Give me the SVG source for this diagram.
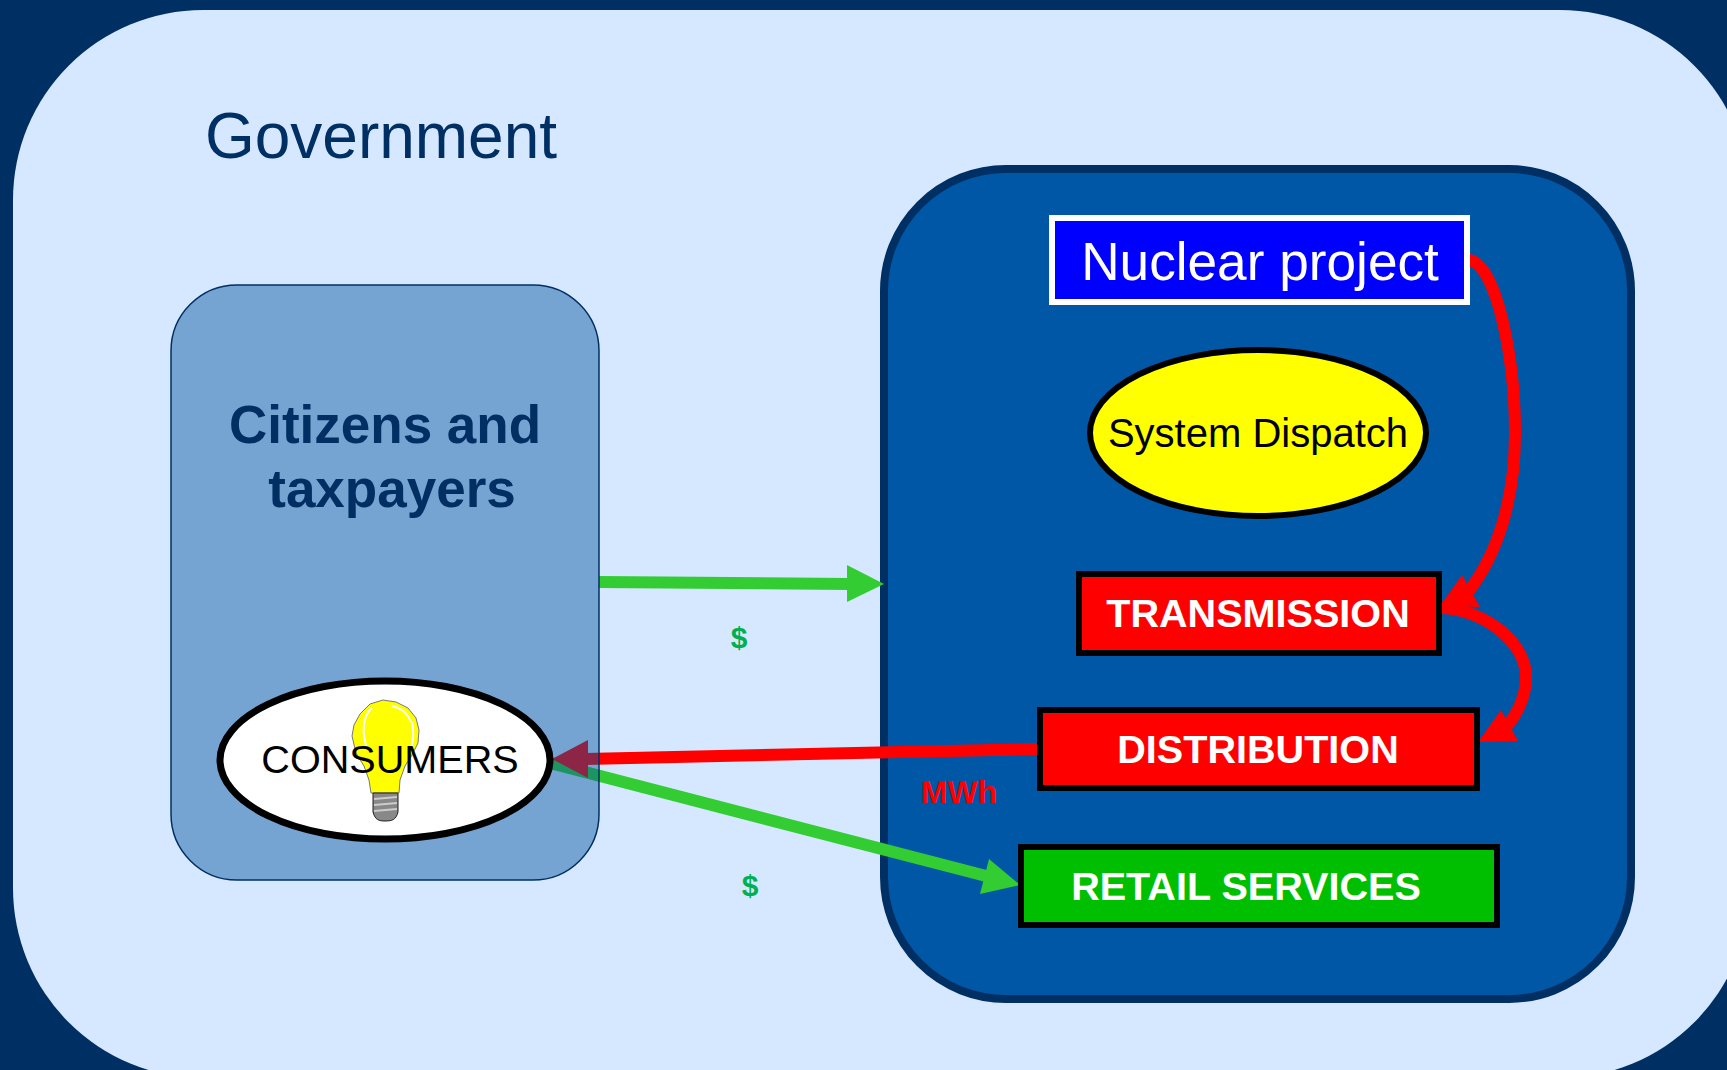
<svg xmlns="http://www.w3.org/2000/svg" width="1727" height="1070" viewBox="0 0 1727 1070">
<style>
text{font-family:"Liberation Sans",Arial,sans-serif;text-anchor:middle}
.b{font-weight:bold}
.lbl{font-size:39.6px;font-weight:bold;fill:#fff}
.box{stroke:#000;stroke-width:6}
.money{font-size:30px;font-weight:bold;fill:#00B050}
.red{fill:none;stroke:#f00;stroke-width:12}
.grn{fill:none;stroke:#33CC33;stroke-width:12}
</style>
<rect width="1727" height="1070" fill="#002F63"/>
<g id="government"><rect x="13" y="10" width="1737" height="1068" rx="190" ry="190" fill="#D6E8FF"/>
<text x="381" y="158" font-size="64" fill="#002F63">Government</text></g>
<g id="utility"><rect x="884" y="169" width="747" height="830" rx="122" ry="122" fill="#0057A6" stroke="#002F63" stroke-width="8"/></g>
<g id="connectors">
<path class="grn" d="M599,582L850,584"/><polygon points="847,565 884,584 847,602" fill="#33CC33"/>
<path class="grn" d="M550,763L990,877"/><polygon points="989,859 1020,885 980,894" fill="#33CC33"/>
<path class="red" d="M1039,749L585,759"/><polygon points="552,759 588,740 588,778" fill="#f00"/>
<path class="red" d="M1469,260C1497,264 1515,360 1515,433C1515,500 1497,555 1468,592"/><polygon points="1440,606 1462,575 1480,607" fill="#f00"/>
<path class="red" d="M1440,608C1480,608 1526,640 1526,677C1526,697 1518,712 1508,725"/><polygon points="1478,742 1501,710 1518,741" fill="#f00"/>
</g>
<g id="citizens"><rect x="171" y="285" width="428" height="595" rx="66" ry="66" fill="#00529B" fill-opacity=".45" stroke="#002F63" stroke-width="1.5"/>
<text class="b" x="385" y="443" font-size="53" fill="#002F63">Citizens and</text>
<text class="b" x="392" y="507" font-size="53" fill="#002F63">taxpayers</text></g>
<g id="consumers"><ellipse cx="385" cy="760" rx="165" ry="79" fill="#fff" stroke="#000" stroke-width="7"/>
<path d="M383,700L396,702L408,708L416,718L419,730L418,743L412,755L405,766L400,780L399,793L371,793L369,780L364,766L356,753L352,736L354,725L360,714L370,704Z" fill="#ff0" stroke="#777" stroke-width="1"/>
<path d="M372,708C362,716 362,735 367,748M392,706C402,708 408,714 411,722M412,722C414,732 414,740 411,748" fill="none" stroke="#fff" stroke-width="2"/>
<path d="M373,793H398V812C396,820 392,821 385,821C379,821 375,820 373,812Z" fill="#888" stroke="#222" stroke-width="1"/>
<path d="M374,799L397,797M374,805L397,803M374,811L397,809" stroke="#ccc" stroke-width="2" fill="none"/>
<text x="390" y="773" font-size="39.6" fill="#000">CONSUMERS</text></g>
<g id="nuclear"><rect x="1052" y="218" width="415" height="84" fill="#0000FF" stroke="#fff" stroke-width="6"/>
<text x="1260" y="280" font-size="53.2" fill="#fff">Nuclear project</text></g>
<g id="dispatch"><ellipse cx="1258" cy="433" rx="168" ry="83" fill="#ff0" stroke="#000" stroke-width="6"/>
<text x="1258" y="447" font-size="40" fill="#000">System Dispatch</text></g>
<g id="transmission"><rect class="box" x="1079" y="574" width="360" height="79" fill="#f00"/><text class="lbl" x="1258" y="627">TRANSMISSION</text></g>
<g id="distribution"><rect class="box" x="1040" y="710" width="437" height="78" fill="#f00"/><text class="lbl" x="1258" y="763">DISTRIBUTION</text></g>
<g id="retail"><rect class="box" x="1021" y="847" width="476" height="78" fill="#00BF00"/><text class="lbl" x="1246" y="900">RETAIL SERVICES</text></g>
<text class="money" x="739" y="648">$</text>
<text class="money" x="750" y="896">$</text>
<text x="959" y="803" font-size="32" font-weight="bold" fill="#f00">MWh</text>
</svg>
